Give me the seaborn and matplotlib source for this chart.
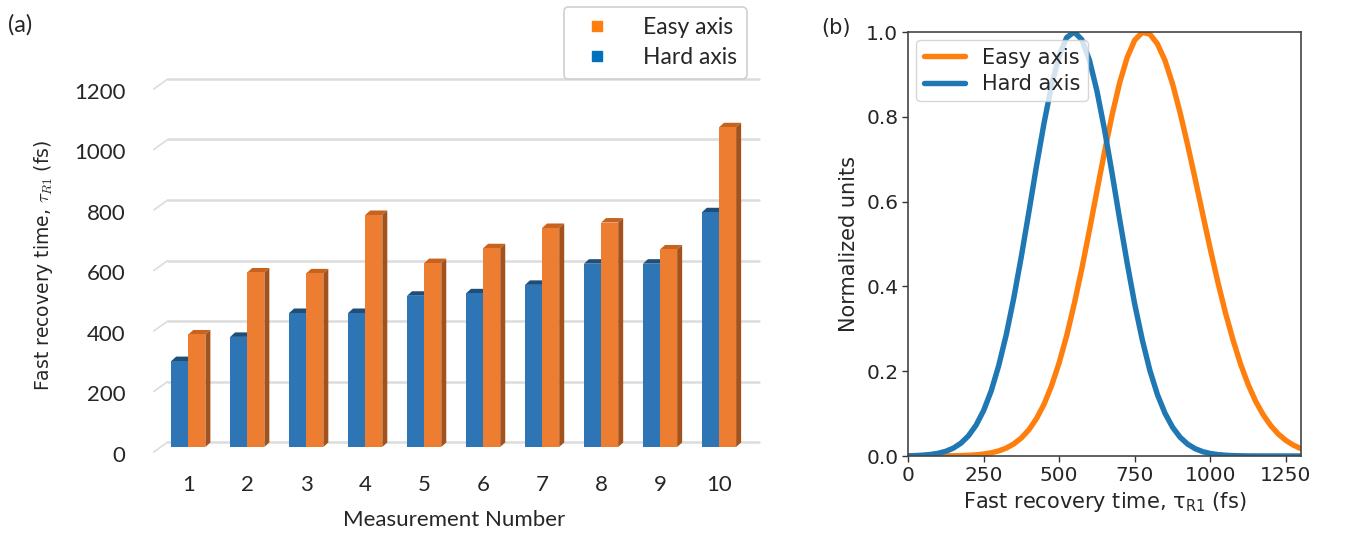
import numpy as np
import pandas as pd
import matplotlib
matplotlib.use("Agg")
import matplotlib.pyplot as plt
import matplotlib.transforms as mtransforms
from matplotlib.patches import Polygon
from matplotlib.lines import Line2D
import seaborn as sns

# ---------------- data ----------------
measurements = ["1", "2", "3", "4", "5", "6", "7", "8", "9", "10"]
hard_axis = [284, 364, 443, 443, 500, 508, 536, 606, 606, 776]
easy_axis = [372, 577, 574, 767, 608, 657, 724, 742, 653, 1057]
y_ticks_a = [0, 200, 400, 600, 800, 1000, 1200]

time_fs = list(range(0, 1301, 25))
hard_curve = [0.0005, 0.001, 0.002, 0.0036, 0.0064, 0.0111, 0.0186, 0.0302, 0.0476, 0.0725,
              0.107, 0.153, 0.213, 0.286, 0.373, 0.471, 0.576, 0.684, 0.785, 0.875,
              0.944, 0.987, 1.0, 0.982, 0.934, 0.861, 0.770, 0.667, 0.559, 0.455,
              0.358, 0.274, 0.202, 0.145, 0.101, 0.068, 0.0443, 0.028, 0.0172, 0.0102,
              0.0059, 0.0033, 0.0018, 0.0009, 0.0005, 0.0002, 0.0001, 0.0, 0.0, 0.0,
              0.0, 0.0, 0.0]
easy_curve = [0.0, 0.0, 0.0, 0.0001, 0.0001, 0.0003, 0.0005, 0.0009, 0.0016, 0.0027,
              0.0046, 0.0075, 0.012, 0.0187, 0.0286, 0.0426, 0.062, 0.0882, 0.122, 0.166,
              0.220, 0.284, 0.359, 0.442, 0.532, 0.625, 0.717, 0.804, 0.880, 0.940,
              0.981, 0.999, 0.995, 0.972, 0.933, 0.878, 0.810, 0.734, 0.653, 0.570,
              0.488, 0.410, 0.338, 0.274, 0.217, 0.169, 0.129, 0.0972, 0.0716, 0.0517,
              0.0367, 0.0255, 0.0174]

# ---------------- style ----------------
sns.set_style("white")
plt.rcParams["font.family"] = ["DejaVu Sans"]

W, H, DPI = 1345, 535, 100
fig = plt.figure(figsize=(W / DPI, H / DPI), dpi=DPI)

excel_blue = "#2E75B6"
excel_orange = "#ED7D31"
blue_top = "#1F4E79"
orange_top = "#C8621F"
orange_side = "#A3521B"
grid_col = "#DCDCDC"
IDT = mtransforms.IdentityTransform()

# ================= panel (a) =================
axA = fig.add_axes([158.8 / W, 88 / H, (748.5 - 158.8) / W, (447 - 84) / H])
axA.patch.set_visible(False)
df = pd.DataFrame({
    "Measurement": measurements * 2,
    "value": hard_axis + easy_axis,
    "Axis": ["Hard axis"] * len(measurements) + ["Easy axis"] * len(measurements),
})
sns.barplot(data=df, x="Measurement", y="value", hue="Axis",
            hue_order=["Hard axis", "Easy axis"],
            palette={"Hard axis": excel_blue, "Easy axis": excel_orange},
            width=0.58, saturation=1, legend=False, ax=axA, zorder=3,
            edgecolor="none", linewidth=0)
axA.set_xlim(-0.5, 9.5)
axA.set_ylim(0, 1200)
axA.set_autoscale_on(False)
for s in axA.spines.values():
    s.set_visible(False)
axA.set_yticks(y_ticks_a)
axA.tick_params(axis="both", length=0, labelsize=16)
axA.tick_params(axis="x", pad=20)
axA.tick_params(axis="y", pad=24)
for lab in axA.get_xticklabels() + axA.get_yticklabels():
    lab.set_fontfamily("Lato")
off = mtransforms.ScaledTranslation(0, -5 / 72, fig.dpi_scale_trans)
for lab in axA.get_yticklabels():
    lab.set_transform(lab.get_transform() + off)
axA.set_xlabel("Measurement Number", fontsize=16, fontfamily="Lato", labelpad=11)
axA.set_ylabel(r"Fast recovery time, $\tau_{R1}$ (fs)", fontsize=13.5, labelpad=14)
axA.yaxis.label.set_math_fontfamily("cm")

fig.canvas.draw()
tr = axA.transData
dx, dy = 5.0, 4.5
x_left_disp = tr.transform((-0.5, 0))[0]
x_right_disp = tr.transform((9.5, 0))[0]
for v in y_ticks_a:
    yd = tr.transform((0, v))[1]
    axA.add_line(Line2D([x_left_disp + 9, x_right_disp + 10], [yd + 5, yd + 5],
                        transform=IDT, color=grid_col, lw=1.8, zorder=0.5, clip_on=False))
    axA.add_line(Line2D([x_left_disp - 5, x_left_disp + 9], [yd - 5, yd + 5],
                        transform=IDT, color=grid_col, lw=1.2, zorder=0.5, clip_on=False))

for p in list(axA.patches):
    x0, y0 = p.get_x(), p.get_y()
    w, h = p.get_width(), p.get_height()
    (X0, Y0) = tr.transform((x0, y0))
    (X1, Y1) = tr.transform((x0 + w, y0 + h))
    fc = matplotlib.colors.to_hex(p.get_facecolor())
    is_orange = fc.lower() == excel_orange.lower()
    top_col = orange_top if is_orange else blue_top
    top = Polygon([(X0, Y1), (X1, Y1), (X1 + dx, Y1 + dy), (X0 + dx, Y1 + dy)],
                  closed=True, transform=IDT, facecolor=top_col, edgecolor="none",
                  zorder=2, clip_on=False)
    axA.add_artist(top)
    if is_orange:
        side = Polygon([(X1, Y0), (X1 + dx, Y0 + dy), (X1 + dx, Y1 + dy), (X1, Y1)],
                       closed=True, transform=IDT, facecolor=orange_side,
                       edgecolor="none", zorder=2, clip_on=False)
        axA.add_artist(side)

handles_a = [Line2D([], [], marker="s", ls="none", color="#FF7F0E", markersize=7),
             Line2D([], [], marker="s", ls="none", color="#0072BD", markersize=7)]
legA = fig.legend(handles_a, ["Easy axis", "Hard axis"], loc="upper right",
                  bbox_to_anchor=(747 / W, 1 - 7 / H), frameon=True, fancybox=True,
                  prop={"family": "Lato", "size": 16.5}, handletextpad=1.0,
                  borderpad=0.45, labelspacing=0.4, borderaxespad=0, handlelength=2.0)
legA.get_frame().set_edgecolor("#D0D0D0")
legA.get_frame().set_linewidth(1.2)
legA.get_frame().set_alpha(1)

fig.text(8 / W, 1 - 25 / H, "(a)", fontsize=17, fontfamily="Lato", va="center", ha="left")

# ================= panel (b) =================
axB = fig.add_axes([908 / W, (H - 456) / H, (1301 - 908) / W, (456 - 32) / H])
curves = pd.DataFrame({
    "time": time_fs * 2,
    "val": easy_curve + hard_curve,
    "Axis": ["Easy axis"] * len(time_fs) + ["Hard axis"] * len(time_fs),
})
sns.lineplot(data=curves, x="time", y="val", hue="Axis",
             palette={"Easy axis": "#FF7F0E", "Hard axis": "#1F77B4"},
             linewidth=3.9, ax=axB)
axB.set_xlim(0, 1300)
axB.set_ylim(0, 1.0)
axB.set_xticks([0, 250, 500, 750, 1000, 1250])
axB.set_yticks([0.0, 0.2, 0.4, 0.6, 0.8, 1.0])
axB.set_yticklabels(["0.0", "0.2", "0.4", "0.6", "0.8", "1.0"])
axB.tick_params(axis="both", direction="out", length=4, width=1, labelsize=14.5,
                bottom=True, left=True, color="#333333", pad=3)
for s in axB.spines.values():
    s.set_visible(True)
    s.set_color("#444444")
    s.set_linewidth(1.2)
axB.set_xlabel(r"Fast recovery time, $\mathrm{\tau_{R1}}$ (fs)", fontsize=15, labelpad=4)
axB.set_ylabel("Normalized units", fontsize=15, labelpad=5)
legB = axB.legend(loc="upper left", fontsize=15, title=None, frameon=True,
                  handlelength=2.0, borderaxespad=0.4, handletextpad=0.8,
                  labelspacing=0.3, borderpad=0.35)
legB.get_frame().set_alpha(0.8)
for lh in legB.get_lines():
    lh.set_linewidth(3.9)
fig.text(821 / W, 1 - 28 / H, "(b)", fontsize=15, va="center", ha="left")

fig.savefig("out.png", dpi=DPI)
